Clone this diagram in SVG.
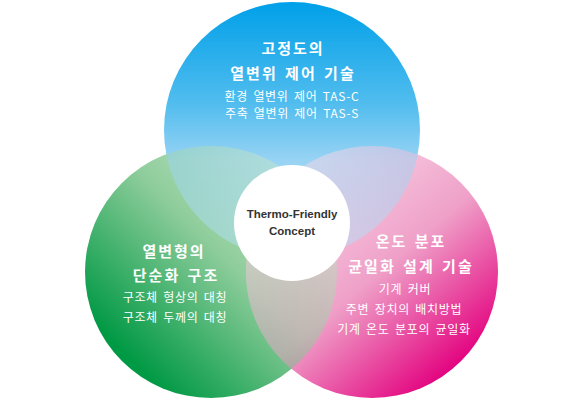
<svg xmlns="http://www.w3.org/2000/svg" width="585" height="402" viewBox="0 0 585 402">
<defs>
  <linearGradient id="gBlue" gradientUnits="userSpaceOnUse" x1="0" y1="2" x2="0" y2="258">
    <stop offset="0" stop-color="#00a0e9"/>
    <stop offset="0.4" stop-color="#52bdee"/>
    <stop offset="0.62" stop-color="#98d3f4"/>
    <stop offset="1" stop-color="#b8e2f8"/>
  </linearGradient>
  <linearGradient id="gGreen" gradientUnits="userSpaceOnUse" x1="300" y1="170" x2="120" y2="350">
    <stop offset="0" stop-color="#cbe7cb"/>
    <stop offset="0.45" stop-color="#8fcd9c"/>
    <stop offset="1" stop-color="#009944"/>
  </linearGradient>
  <linearGradient id="gPink" gradientUnits="userSpaceOnUse" x1="320" y1="160" x2="480" y2="350">
    <stop offset="0" stop-color="#f9d5e6"/>
    <stop offset="0.5" stop-color="#efa0c8"/>
    <stop offset="1" stop-color="#e3007e"/>
  </linearGradient>
  <clipPath id="cBlue"><circle cx="292" cy="130" r="128"/></clipPath>
  <clipPath id="cPink"><circle cx="372" cy="272" r="126"/></clipPath>
</defs>
<style>
  .t{font-family:"Noto Sans CJK KR","Noto Sans",sans-serif;fill:#fff;text-anchor:middle}
  .h{font-size:15px;font-weight:700;letter-spacing:2px;word-spacing:2px}
  .s{font-size:12px;letter-spacing:0.7px;word-spacing:2px}
  .c{font-family:"Liberation Sans",Arial,sans-serif;font-weight:700;font-size:11.5px;fill:#333;text-anchor:middle}
</style>
<g id="circles">
  <circle id="green" cx="211" cy="272" r="126" fill="url(#gGreen)"/>
  <circle id="pink" cx="372" cy="272" r="126" fill="url(#gPink)"/>
  <circle cx="211" cy="272" r="126" fill="url(#gGreen)" opacity="0.5" clip-path="url(#cPink)"/>
  <circle id="blue" cx="292" cy="130" r="128" fill="url(#gBlue)"/>
  <g clip-path="url(#cBlue)">
    <circle cx="211" cy="272" r="126" fill="url(#gGreen)" opacity="0.5"/>
    <circle cx="372" cy="272" r="126" fill="url(#gPink)" opacity="0.5"/>
  </g>
</g>
<g id="node-top">
  <text class="t h" x="293" y="54">고정도의</text>
  <text class="t h" x="293" y="79">열변위 제어 기술</text>
  <text class="t s" x="292" y="101">환경 열변위 제어 TAS-C</text>
  <text class="t s" x="292" y="118">주축 열변위 제어 TAS-S</text>
</g>
<g id="node-left">
  <text class="t h" x="174" y="257">열변형의</text>
  <text class="t h" x="176" y="281">단순화 구조</text>
  <text class="t s" x="175" y="302">구조체 형상의 대칭</text>
  <text class="t s" x="175" y="322">구조체 두께의 대칭</text>
</g>
<g id="node-right">
  <text class="t h" x="411" y="247">온도 분포</text>
  <text class="t h" x="411" y="272">균일화 설계 기술</text>
  <text class="t s" x="405" y="294">기계 커버</text>
  <text class="t s" x="404" y="314">주변 장치의 배치방법</text>
  <text class="t s" x="404" y="334">기계 온도 분포의 균일화</text>
</g>
<g id="node-center">
  <circle cx="292" cy="223" r="58" fill="#fff"/>
  <text class="c" x="292" y="218">Thermo-Friendly</text>
  <text class="c" x="292" y="235">Concept</text>
</g>
<g id="connectors"></g>
</svg>
